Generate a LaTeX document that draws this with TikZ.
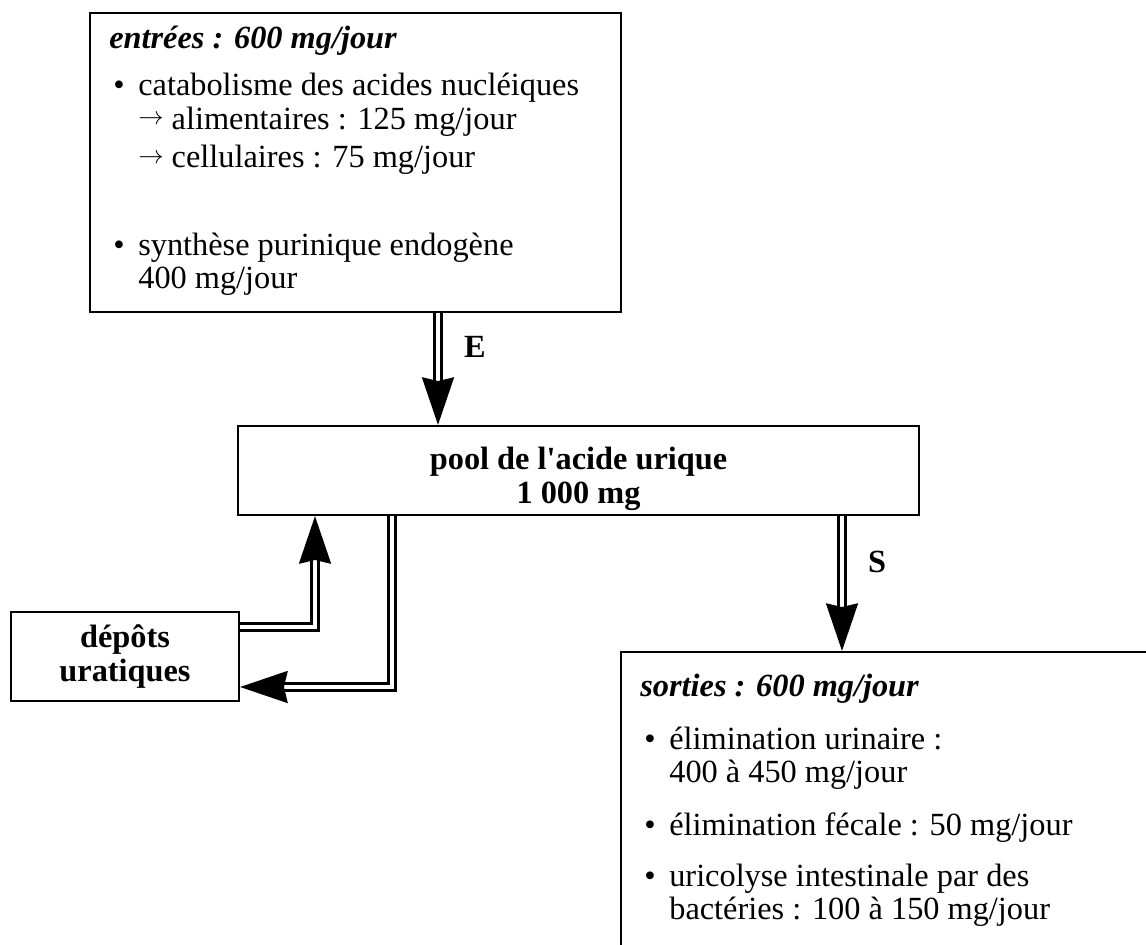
\documentclass[tikz,border=0pt]{standalone}
\usepackage{fontspec}
\setmainfont{Liberation Serif}
\usetikzlibrary{positioning,arrows.meta}

\newcommand{\puce}{\hspace*{2.3pt}\makebox[14.2pt][l]{\textbullet}}
\newcommand{\retrait}{\hspace*{16.5pt}}
\newcommand{\fleche}{\raisebox{2.6pt}{\fontsize{14}{14}\selectfont$\rightarrow$}\ }

\begin{document}
\begin{tikzpicture}[x=0.02cm, y=0.02cm,
  boite/.style={draw=black, line width=1.2pt, rectangle},
  gras/.style={font=\fontsize{18.4}{19}\selectfont\bfseries},
  flux/.style={draw=black, line width=2.1pt, double=white, double distance=1.8pt,
    -{Stealth[length=27pt,width=18pt,inset=2pt]}}]
\tikzstyle{every node}+=[inner sep=0pt, font=\fontsize{18.4}{19}\selectfont]
\useasboundingbox (0,0) rectangle (1146,-944);
\clip (0,0) rectangle (1146,-944);
% boites
\node [boite, minimum width=10.62cm, minimum height=5.98cm] (entrees) at (355.5,-162.5) {};
\node [boite, minimum width=13.62cm, minimum height=1.78cm] (pool) at (578.5,-470.5) {};
\node [boite, gras, align=center, minimum width=4.56cm, minimum height=1.78cm] (depots) at (125,-656.5) {dépôts\\uratiques};
\node [boite, minimum width=10.78cm, minimum height=6.16cm] (sorties) at (890.5,-806) {};
% textes
\node [anchor=north west, align=left] (entrees-txt) at (109,-26) {%
  {\bfseries\itshape entrées : 600 mg/jour}\\[7.7pt]
  \puce catabolisme des acides nucléiques\\
  \retrait\fleche alimentaires : 125 mg/jour\\[3.1pt]
  \retrait\fleche cellulaires : 75 mg/jour\\[30.9pt]
  \puce synthèse purinique endogène\\
  \retrait 400 mg/jour};
\node [gras, align=center] (pool-txt) at (578.5,-479) {pool de l\textquotesingle acide urique\\1~000 mg};
\node [anchor=north west, align=left] (sorties-txt) at (640,-674) {%
  {\bfseries\itshape sorties : 600 mg/jour}\\[10.8pt]
  \puce élimination urinaire :\\
  \retrait 400 à 450 mg/jour\\[11.3pt]
  \puce élimination fécale : 50 mg/jour\\[9.6pt]
  \puce uricolyse intestinale par des\\
  \retrait bactéries : 100 à 150 mg/jour};
% fleches
\coordinate (ex) at (438,0);
\coordinate (sx) at (842,0);
\coordinate (mx) at (315,0);
\coordinate (dx) at (392,0);
\draw [flux] (entrees.south -| ex) -- (pool.north -| ex);
\draw (475,-347) node [gras] (lblE) {E};
\draw [flux] (pool.south -| sx) -- (sorties.north -| sx);
\draw (877,-562) node [gras] (lblS) {S};
\draw [flux] ([yshift=0.59cm]depots.east) -| (pool.south -| mx);
\draw [flux] (pool.south -| dx) |- ([yshift=-0.61cm]depots.east);
\end{tikzpicture}
\end{document}
